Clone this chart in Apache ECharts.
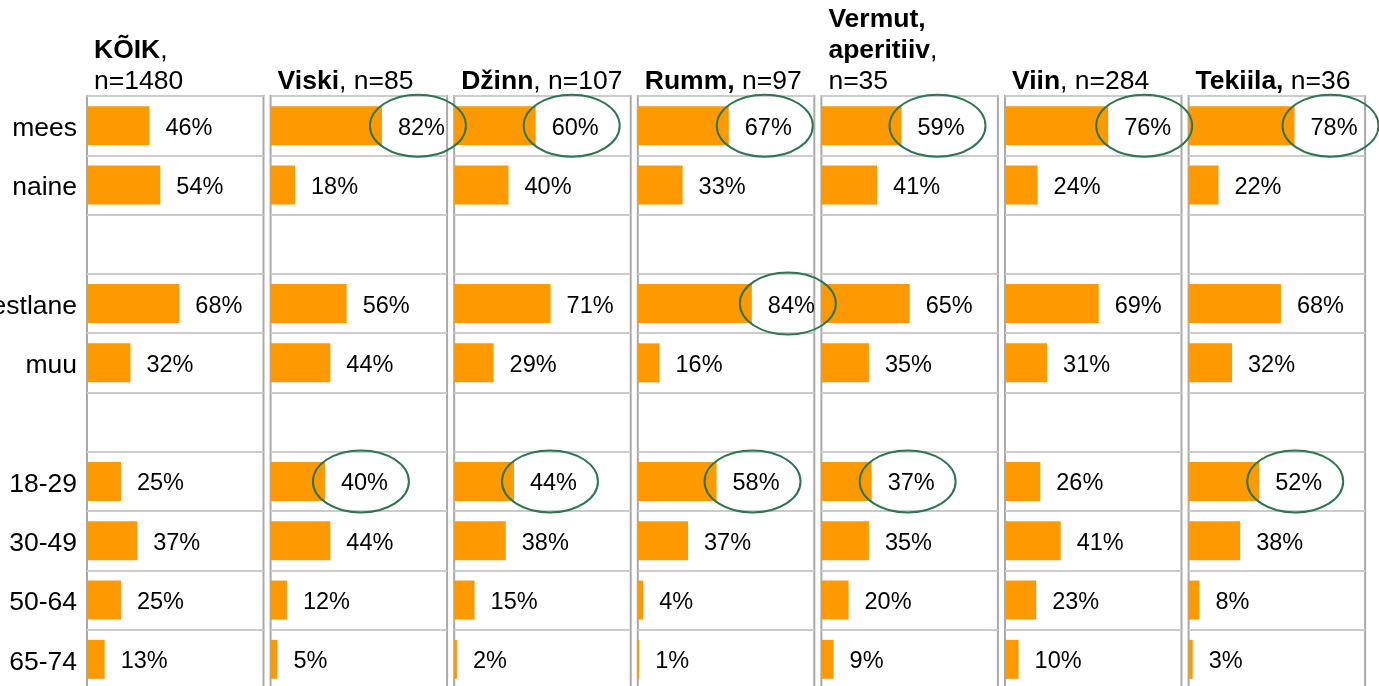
<!DOCTYPE html>
<html>
<head>
<meta charset="utf-8">
<script src="https://cdn.jsdelivr.net/npm/echarts@6/dist/echarts.min.js"></script>
<style>
  html, body { margin: 0; padding: 0; background: #fff; }
  #chart { width: 1379px; height: 686px; }
</style>
</head>
<body>
<div id="chart"></div>
<script>
  // rows (blank strings are the empty spacer rows)
  const categories = ['mees', 'naine', ' ', 'eestlane', 'muu', '  ', '18-29', '30-49', '50-64', '65-74']

  // panel headers, bold part / normal part
  const panelTitles = [
    '{b|KÕIK}{n|,}\n{n|n=1480}',
    '{b|Viski}{n|, n=85}',
    '{b|Džinn}{n|, n=107}',
    '{b|Rumm,}{n| n=97}',
    '{b|Vermut,}\n{b|aperitiiv}{n|,}\n{n|n=35}',
    '{b|Viin}{n|, n=284}',
    '{b|Tekiila,}{n| n=36}'
  ]

  // share in % per panel, same order as categories
  const koik    = [46, 54, '-', 68, 32, '-', 25, 37, 25, 13]
  const viski   = [82, 18, '-', 56, 44, '-', 40, 44, 12, 5]
  const dzinn   = [60, 40, '-', 71, 29, '-', 44, 38, 15, 2]
  const rumm    = [67, 33, '-', 84, 16, '-', 58, 37, 4, 1]
  const vermut  = [59, 41, '-', 65, 35, '-', 37, 35, 20, 9]
  const viin    = [76, 24, '-', 69, 31, '-', 26, 41, 23, 10]
  const tekiila = [78, 22, '-', 68, 32, '-', 52, 38, 8, 3]
  const panelValues = [koik, viski, dzinn, rumm, vermut, viin, tekiila]

  // circled values: [panel index, row index]
  const highlights = [
    [1, 0], [2, 0], [3, 0], [4, 0], [5, 0], [6, 0],
    [3, 3],
    [1, 6], [2, 6], [3, 6], [4, 6], [6, 6]
  ]

  const FONT = '"Liberation Sans", Arial, Helvetica, sans-serif'
  const PANEL_LEFT = 87
  const PANEL_STEP = 183.6
  const PANEL_WIDTH = 176.5
  const PANEL_TOP = 96

  const chart = echarts.init(document.getElementById('chart'))

  const grids = []
  const xAxes = []
  const yAxes = []
  const series = []
  const titles = []

  panelValues.forEach((vals, i) => {
    const left = PANEL_LEFT + i * PANEL_STEP
    grids.push({
      left: left,
      width: PANEL_WIDTH,
      top: PANEL_TOP,
      bottom: -3,
      containLabel: false,
      outerBoundsMode: 'none',
      show: true,
      borderColor: '#a9a9a9',
      borderWidth: 2,
      backgroundColor: 'transparent'
    })
    xAxes.push({
      type: 'value',
      gridIndex: i,
      min: 0,
      max: 130,
      show: false
    })
    yAxes.push({
      type: 'category',
      gridIndex: i,
      data: categories,
      inverse: true,
      axisLine: { show: false },
      axisTick: { show: false },
      axisLabel: {
        show: i === 0,
        color: '#000',
        fontSize: 26.5,
        fontFamily: FONT,
        margin: 10,
        verticalAlign: 'top',
        lineHeight: 6
      },
      splitLine: {
        show: true,
        interval: 0,
        lineStyle: { color: '#cbcbcb', width: 2 }
      }
    })
    series.push({
      type: 'bar',
      xAxisIndex: i,
      yAxisIndex: i,
      data: vals,
      barWidth: 39,
      silent: true,
      animation: false,
      itemStyle: { color: '#ff9900' },
      label: {
        show: true,
        position: 'right',
        distance: 16,
        offset: [0, 2.5],
        formatter: '{c}%',
        color: '#000',
        fontSize: 23.5,
        fontFamily: FONT
      }
    })
    const lines = panelTitles[i].split('\n').length
    titles.push({
      text: panelTitles[i],
      left: left + 7,
      top: 66 - (lines - 1) * 31,
      padding: 0,
      textStyle: {
        rich: {
          b: { fontSize: 26.5, fontWeight: 'bold', color: '#000', fontFamily: FONT, lineHeight: 31 },
          n: { fontSize: 26.5, fontWeight: 'normal', color: '#000', fontFamily: FONT, lineHeight: 31 }
        }
      }
    })
  })

  chart.setOption({
    animation: false,
    title: titles,
    grid: grids,
    xAxis: xAxes,
    yAxis: yAxes,
    series: series
  })

  // green ellipses around the circled values, placed from the axes
  const ellipses = highlights.map(([p, r]) => {
    const pt = chart.convertToPixel({ gridIndex: p }, [panelValues[p][r], r])
    return {
      type: 'ellipse',
      shape: { cx: pt[0] + 36, cy: pt[1], rx: 48, ry: 31 },
      style: { fill: 'none', stroke: '#2e7550', lineWidth: 2 },
      z: 100,
      silent: true
    }
  })

  chart.setOption({ graphic: ellipses })
</script>
</body>
</html>
